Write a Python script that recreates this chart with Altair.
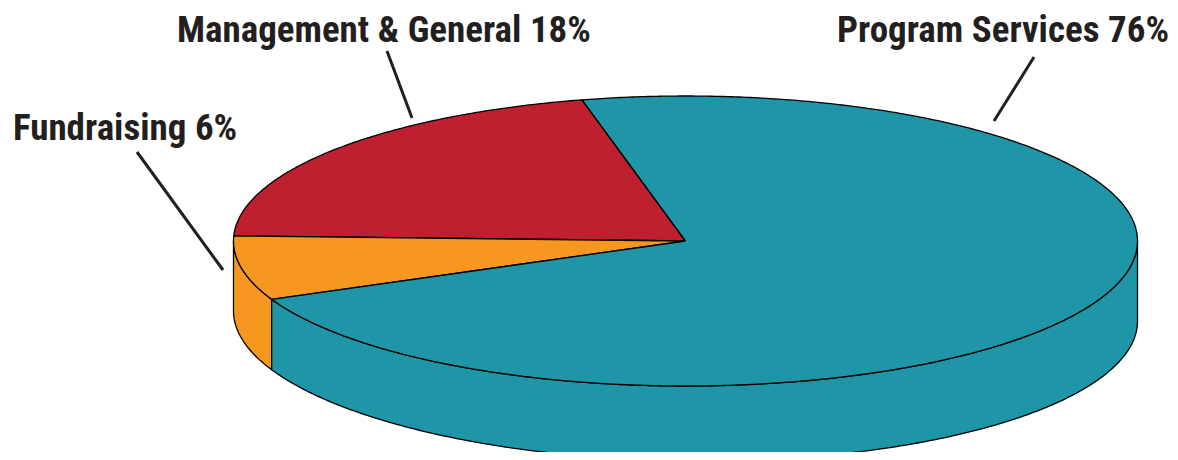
import math
import altair as alt
import pandas as pd

# ---------------- data ----------------
categories = ["Program Services", "Management & General", "Fundraising"]
percents = [76, 18, 6]
colors = ["#1E96A8", "#BE202F", "#F6971F"]

# ---------------- layout / style (reference pixel space) ----------------
CX, CY = 685.5, 241.0      # centre of top face
RX, RY = 452.0, 145.0      # radii of top face
START = 113.5              # true angle where the first slice (ccw order) starts
PERSP = 11.2               # perspective warp of angles (degrees)
DRAW_ORDER = ["Management & General", "Fundraising", "Program Services"]  # ccw from START
LEADERS = {   # (x1, y1, x2, y2) from label to pie
    "Program Services": (1034, 57, 994, 121),
    "Management & General": (387, 51, 412, 118),
    "Fundraising": (137, 152, 223, 270),
}
LABEL_POS = {  # left x, baseline y
    "Program Services": (837, 42),
    "Management & General": (177, 42),
    "Fundraising": (13, 140),
}
FONT = "Roboto Condensed, Roboto, sans-serif"
FONT_SIZE = 37
TEXT_COLOR = "#231F20"

XDOM = [8, 1170]
YDOM = [8, 452]
W, H = XDOM[1] - XDOM[0], YDOM[1] - YDOM[0]


def warp(t):
    return t - PERSP * math.sin(math.radians(t))


def depth(u):
    return 75 + 5 * math.cos(math.radians(u))


def pt(u, bottom=False):
    r = math.radians(u)
    x = CX + RX * math.cos(r)
    y = CY - RY * math.sin(r)
    if bottom:
        y += depth(u)
    return x, y


def arc(u1, u2, bottom=False):
    n = max(2, int(abs(u2 - u1) / 0.5) + 1)
    return [pt(u1 + (u2 - u1) * i / (n - 1), bottom) for i in range(n)]


# slice angular ranges (drawn angles)
pct = dict(zip(categories, percents))
col = dict(zip(categories, colors))
ranges = {}
t = START
for c in DRAW_ORDER:
    t2 = t + 360.0 * pct[c] / sum(percents)
    ranges[c] = (warp(t), warp(t2))
    t = t2

side_polys = []
top_polys = []
for c in DRAW_ORDER:
    u1, u2 = ranges[c]
    # visible front wall: drawn angles in [180, 360] (+360k)
    for k in (0, 1):
        lo = max(u1, 180 + 360 * k)
        hi = min(u2, 360 + 360 * k)
        if hi > lo:
            pts = arc(lo, hi) + arc(hi, lo, bottom=True)
            pts.append(pts[0])
            side_polys.append((c, pts))
    pts = [(CX, CY)] + arc(u1, u2) + [(CX, CY)]
    top_polys.append((c, pts))

X = alt.X("x:Q", scale=alt.Scale(domain=XDOM, nice=False, zero=False), axis=None)
Y = alt.Y("y:Q", scale=alt.Scale(domain=YDOM, nice=False, zero=False, reverse=True), axis=None)

layers = []
for c, pts in side_polys + top_polys:
    df = pd.DataFrame({"x": [p[0] for p in pts], "y": [p[1] for p in pts], "i": range(len(pts))})
    layers.append(
        alt.Chart(df).mark_line(fill=col[c], stroke="black", strokeWidth=1.3,
                                strokeJoin="round", clip=True)
        .encode(x=X, y=Y, order="i:Q")
    )

lead_df = pd.DataFrame([
    {"x": v[0], "y": v[1], "x2": v[2], "y2": v[3]} for v in LEADERS.values()
])
layers.append(
    alt.Chart(lead_df).mark_rule(color=TEXT_COLOR, strokeWidth=3)
    .encode(x=X, y=Y, x2="x2:Q", y2="y2:Q")
)

lab_df = pd.DataFrame([
    {"x": LABEL_POS[c][0], "y": LABEL_POS[c][1], "t": f"{c} {p}%"}
    for c, p in zip(categories, percents)
])
layers.append(
    alt.Chart(lab_df).mark_text(align="left", baseline="alphabetic", font=FONT,
                                fontSize=FONT_SIZE, fontWeight="bold", color=TEXT_COLOR)
    .encode(x=X, y=Y, text="t:N")
)

chart = alt.layer(*layers).properties(
    width=W, height=H, padding=0,
    autosize=alt.AutoSizeParams(type="none"),
).configure_view(strokeWidth=0)

chart.save("out.html", embed_options={"renderer": "svg", "actions": False})
